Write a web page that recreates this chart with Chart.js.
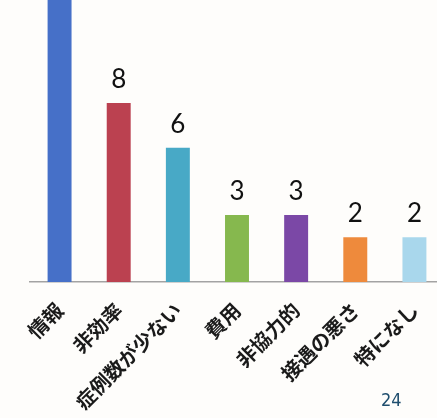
<!DOCTYPE html>
<html>
<head>
<meta charset="utf-8">
<script src="https://cdn.jsdelivr.net/npm/chart.js@4/dist/chart.umd.min.js"></script>
<style>
  html, body { margin: 0; padding: 0; background: #fefdfb; overflow: hidden; }
  #wrap { position: relative; width: 437px; height: 418px; overflow: hidden; }
  #pageNo {
    position: absolute; left: 381px; top: 389px;
    font-family: "Liberation Sans Narrow", "DejaVu Sans Condensed", sans-serif;
    font-size: 18px; color: #1f4e6e;
  }
</style>
</head>
<body>
<div id="wrap">
  <canvas id="chartCanvas" width="450" height="430"></canvas>
  <div id="pageNo">24</div>
</div>
<script>
// categories and values (first bar runs off the top)
var categories = ['情報', '非効率', '症例数が少ない', '費用', '非協力的', '接遇の悪さ', '特になし'];
var counts = [14, 8, 6, 3, 3, 2, 2];
var barColors = ['#4670c8', '#bb4150', '#48a9c6', '#86b84e', '#7b48a6', '#ee8a3c', '#a9d7ec'];
var yMax = 12.6;

// draws the count above each bar
var valueLabels = {
  id: 'valueLabels',
  afterDatasetsDraw: function(chart) {
    var ctx = chart.ctx;
    var meta = chart.getDatasetMeta(0);
    ctx.save();
    ctx.font = '26px Lato, "Open Sans", sans-serif';
    ctx.fillStyle = '#111';
    ctx.textAlign = 'center';
    ctx.textBaseline = 'alphabetic';
    meta.data.forEach(function(bar, i) {
      ctx.fillText(String(counts[i]), bar.x, bar.y - 15);
    });
    ctx.restore();
  }
};

var ctx = document.getElementById('chartCanvas').getContext('2d');
var chart = new Chart(ctx, {
  type: 'bar',
  data: {
    labels: categories,
    datasets: [{
      data: counts,
      backgroundColor: barColors,
      barPercentage: 0.405,
      categoryPercentage: 1.0,
    }]
  },
  options: {
    responsive: false,
    animation: false,
    layout: { padding: { left: 30, right: 6, top: 0, bottom: 0 } },
    plugins: {
      legend: { display: false },
      tooltip: { enabled: false },
    },
    scales: {
      x: {
        grid: { display: false, drawTicks: false },
        border: { display: true, color: '#a3a3a3', width: 1.5 },
        ticks: {
          minRotation: 45,
          maxRotation: 45,
          padding: 16,
          color: '#1a1a1a',
          font: { family: '"Noto Sans CJK JP", sans-serif', size: 20, weight: 'bold' },
        },
      },
      y: {
        display: false,
        min: 0,
        max: yMax,
      }
    }
  },
  plugins: [valueLabels]
});
</script>
</body>
</html>
